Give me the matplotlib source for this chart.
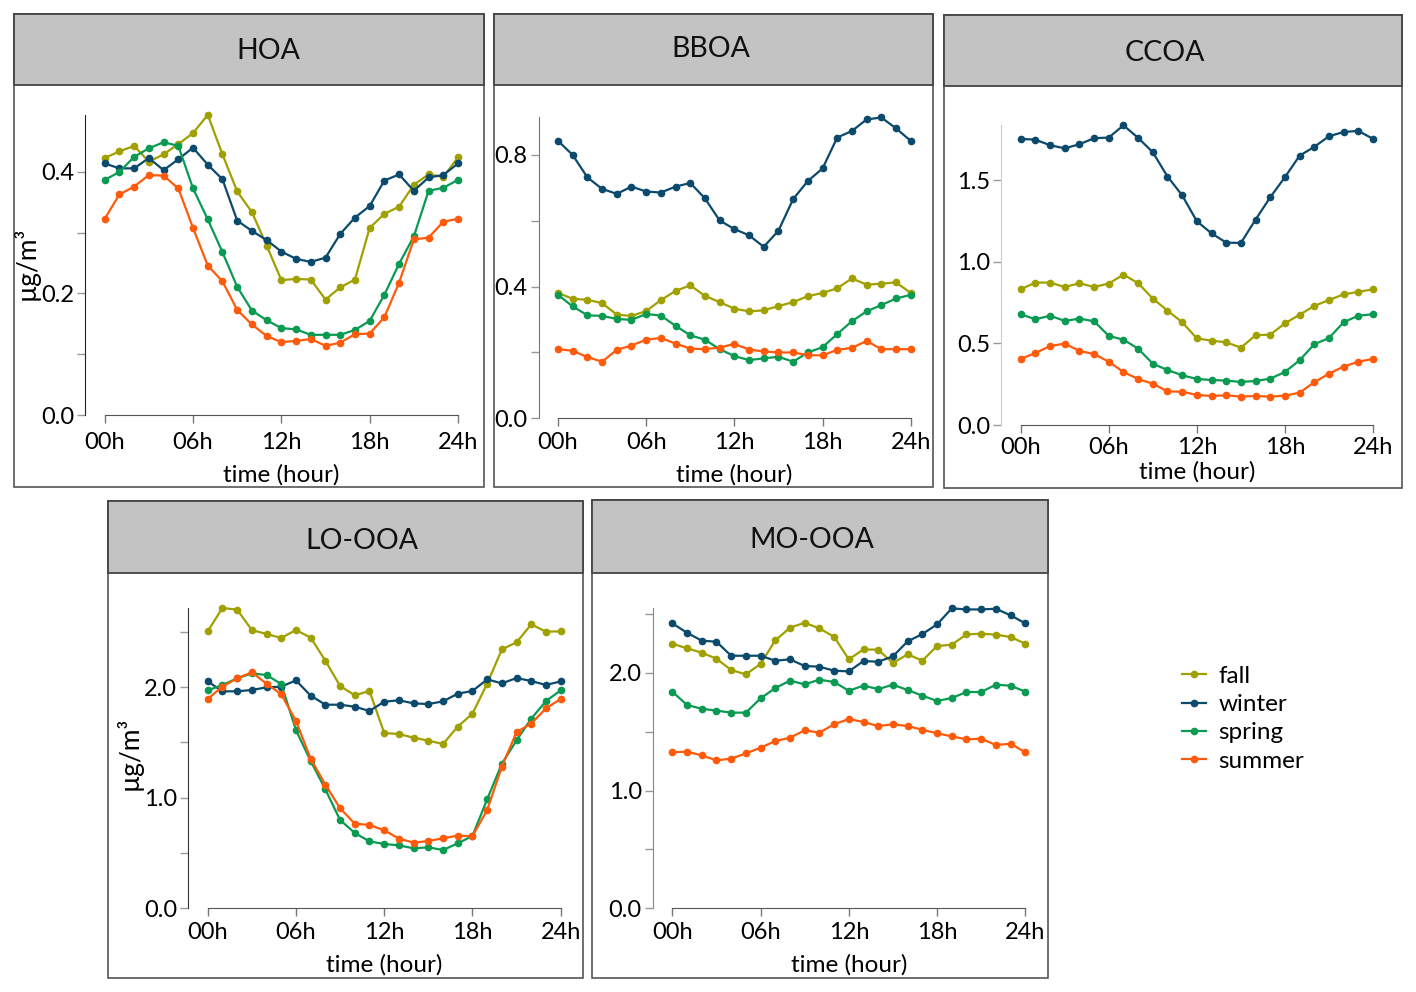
import matplotlib
matplotlib.use("Agg")
import matplotlib.pyplot as plt
from matplotlib.patches import Rectangle

plt.rcParams["font.family"] = ["Lato", "DejaVu Sans"]

W, H = 1416, 992
hours = list(range(25))
seasons = ["fall", "winter", "spring", "summer"]
colors = {"fall": "#a0a000", "winter": "#0b4a6c", "spring": "#0a9a52", "summer": "#ff5a0a"}

hoa_fall = [0.423, 0.434, 0.443, 0.417, 0.429, 0.446, 0.464, 0.494, 0.429, 0.368, 0.334, 0.279, 0.222,
            0.224, 0.223, 0.190, 0.210, 0.223, 0.308, 0.331, 0.343, 0.379, 0.396, 0.392, 0.424]
hoa_winter = [0.414, 0.406, 0.406, 0.423, 0.403, 0.421, 0.440, 0.412, 0.388, 0.320, 0.303, 0.288, 0.269,
              0.257, 0.252, 0.259, 0.298, 0.325, 0.344, 0.386, 0.396, 0.369, 0.391, 0.395, 0.414]
hoa_spring = [0.387, 0.400, 0.425, 0.439, 0.449, 0.443, 0.373, 0.322, 0.268, 0.211, 0.172, 0.156, 0.143,
              0.141, 0.132, 0.132, 0.132, 0.140, 0.155, 0.198, 0.249, 0.294, 0.369, 0.374, 0.387]
hoa_summer = [0.323, 0.363, 0.376, 0.395, 0.394, 0.373, 0.308, 0.246, 0.220, 0.173, 0.149, 0.130, 0.120,
              0.122, 0.125, 0.114, 0.119, 0.133, 0.134, 0.161, 0.218, 0.289, 0.292, 0.318, 0.323]

bboa_fall = [0.381, 0.363, 0.360, 0.350, 0.315, 0.311, 0.326, 0.359, 0.387, 0.404, 0.372, 0.353, 0.333,
             0.325, 0.328, 0.341, 0.353, 0.371, 0.381, 0.395, 0.425, 0.406, 0.409, 0.413, 0.381]
bboa_winter = [0.843, 0.800, 0.732, 0.697, 0.682, 0.704, 0.689, 0.686, 0.704, 0.715, 0.668, 0.601, 0.575,
               0.556, 0.521, 0.570, 0.666, 0.721, 0.759, 0.853, 0.873, 0.908, 0.914, 0.881, 0.843]
bboa_spring = [0.375, 0.340, 0.313, 0.311, 0.302, 0.299, 0.317, 0.312, 0.281, 0.252, 0.239, 0.210, 0.189,
               0.177, 0.182, 0.187, 0.172, 0.200, 0.216, 0.256, 0.295, 0.325, 0.344, 0.364, 0.375]
bboa_summer = [0.210, 0.205, 0.186, 0.172, 0.208, 0.221, 0.239, 0.244, 0.227, 0.212, 0.210, 0.215, 0.226,
               0.209, 0.203, 0.200, 0.200, 0.192, 0.191, 0.208, 0.214, 0.235, 0.210, 0.210, 0.210]

ccoa_fall = [0.832, 0.873, 0.873, 0.846, 0.869, 0.846, 0.867, 0.922, 0.869, 0.775, 0.701, 0.630, 0.531,
             0.517, 0.507, 0.474, 0.550, 0.554, 0.623, 0.676, 0.730, 0.766, 0.801, 0.816, 0.832]
ccoa_winter = [1.754, 1.749, 1.715, 1.696, 1.721, 1.758, 1.762, 1.837, 1.760, 1.672, 1.523, 1.408, 1.249,
               1.175, 1.118, 1.116, 1.259, 1.396, 1.519, 1.651, 1.705, 1.770, 1.796, 1.803, 1.754]
ccoa_spring = [0.679, 0.648, 0.670, 0.638, 0.652, 0.636, 0.546, 0.523, 0.468, 0.376, 0.337, 0.305, 0.282,
               0.276, 0.272, 0.264, 0.270, 0.284, 0.325, 0.397, 0.495, 0.533, 0.630, 0.670, 0.679]
ccoa_summer = [0.405, 0.441, 0.484, 0.499, 0.454, 0.435, 0.388, 0.325, 0.282, 0.253, 0.206, 0.204, 0.184,
               0.178, 0.182, 0.174, 0.178, 0.174, 0.180, 0.198, 0.262, 0.315, 0.358, 0.388, 0.405]

lo_fall = [2.503, 2.714, 2.699, 2.515, 2.479, 2.443, 2.515, 2.446, 2.238, 2.009, 1.925, 1.964, 1.584,
           1.575, 1.542, 1.515, 1.485, 1.642, 1.759, 2.030, 2.340, 2.404, 2.566, 2.500, 2.503]
lo_winter = [2.051, 1.961, 1.961, 1.973, 1.997, 2.003, 2.060, 1.922, 1.840, 1.840, 1.822, 1.783, 1.867,
             1.880, 1.852, 1.846, 1.870, 1.940, 1.964, 2.069, 2.033, 2.081, 2.054, 2.018, 2.051]
lo_spring = [1.970, 2.018, 2.078, 2.123, 2.108, 2.027, 1.611, 1.331, 1.075, 0.798, 0.681, 0.605, 0.581,
             0.569, 0.542, 0.551, 0.527, 0.587, 0.654, 0.985, 1.307, 1.518, 1.714, 1.873, 1.970]
lo_summer = [1.892, 2.003, 2.078, 2.133, 2.030, 1.934, 1.693, 1.352, 1.117, 0.904, 0.765, 0.753, 0.705,
             0.630, 0.593, 0.608, 0.633, 0.657, 0.651, 0.889, 1.280, 1.593, 1.669, 1.807, 1.892]

mo_fall = [2.246, 2.207, 2.170, 2.119, 2.023, 1.986, 2.074, 2.274, 2.382, 2.424, 2.376, 2.305, 2.113,
           2.198, 2.195, 2.082, 2.156, 2.102, 2.226, 2.238, 2.325, 2.331, 2.323, 2.303, 2.246]
mo_winter = [2.419, 2.339, 2.272, 2.263, 2.144, 2.144, 2.144, 2.102, 2.113, 2.057, 2.051, 2.017, 2.011,
             2.099, 2.093, 2.139, 2.266, 2.328, 2.410, 2.546, 2.537, 2.537, 2.543, 2.487, 2.419]
mo_spring = [1.839, 1.726, 1.694, 1.678, 1.661, 1.661, 1.782, 1.870, 1.932, 1.901, 1.941, 1.921, 1.847,
             1.890, 1.861, 1.898, 1.853, 1.805, 1.760, 1.785, 1.836, 1.836, 1.898, 1.890, 1.839]
mo_summer = [1.324, 1.330, 1.298, 1.256, 1.270, 1.315, 1.363, 1.420, 1.448, 1.511, 1.491, 1.562, 1.607,
             1.581, 1.547, 1.562, 1.547, 1.516, 1.485, 1.460, 1.434, 1.440, 1.386, 1.397, 1.324]

xtick_vals = [0, 6, 12, 18, 24]
xtick_labels = ["00h", "06h", "12h", "18h", "24h"]

# name, series, frame(x0,y0,x1,y1,header_bottom), title pos, axes px (x at 0h, x at 24h, y of 0, y of ref, ref), ytop,
# major ticks, minor ticks, ylabel, left spine colour, tick pad, xlabel pad
panels = [
    ("HOA", [hoa_fall, hoa_winter, hoa_spring, hoa_summer], (14, 14, 484, 487, 85), (268, 51),
     (104.7, 458, 415, 172, 0.4), 0.5, [0, 0.2, 0.4], [0.1, 0.3], True, "#222222", 6, 8),
    ("BBOA", [bboa_fall, bboa_winter, bboa_spring, bboa_summer], (494, 14, 933, 487, 85), (711, 49),
     (558, 910.7, 418.3, 155, 0.8), 0.95, [0, 0.4, 0.8], [0.2, 0.6], False, "#777777", 4, 8),
    ("CCOA", [ccoa_fall, ccoa_winter, ccoa_spring, ccoa_summer], (944, 15, 1402, 488, 86), (1165, 53),
     (1020.7, 1373, 425, 180.3, 1.5), 1.9, [0, 0.5, 1.0, 1.5], [], False, "#cccccc", 3, 2),
    ("LO-OOA", [lo_fall, lo_winter, lo_spring, lo_summer], (108, 501, 583, 978, 573), (362, 541),
     (207.7, 560.7, 908.3, 687, 2.0), 2.8, [0, 1.0, 2.0], [0.5, 1.5, 2.5], True, "#333333", 4, 8),
    ("MO-OOA", [mo_fall, mo_winter, mo_spring, mo_summer], (592, 500, 1048, 978, 573), (812, 540),
     (672.3, 1025.3, 908.3, 672.7, 2.0), 2.6, [0, 1.0, 2.0], [0.5, 1.5, 2.5], False, "#888888", 4, 8),
]

fig = plt.figure(figsize=(W / 100, H / 100), dpi=100)
fig.patch.set_facecolor("white")

FS = 17
handles = None
for name, series, frame, tpos, apx, ytop, majors, minors, ylab, spc, tpad, lpad in panels:
    fx0, fy0, fx1, fy1, hb = frame
    fig.add_artist(Rectangle((fx0 / W, 1 - fy1 / H), (fx1 - fx0) / W, (fy1 - fy0) / H,
                             transform=fig.transFigure, facecolor="white", edgecolor="#555555", lw=1.2, zorder=0))
    fig.add_artist(Rectangle((fx0 / W, 1 - hb / H), (fx1 - fx0) / W, (hb - fy0) / H,
                             transform=fig.transFigure, facecolor="#c3c3c3", edgecolor="#444444", lw=1.3, zorder=0))
    fig.text(tpos[0] / W, 1 - tpos[1] / H, name, ha="center", va="center", fontsize=20.5, color="#111111")

    x0, x24, y0, yref, vref = apx
    scale = (y0 - yref) / vref
    ytop_px = y0 - ytop * scale
    ax = fig.add_axes([x0 / W, 1 - y0 / H, (x24 - x0) / W, (y0 - ytop_px) / H])
    ax.set_facecolor("none")
    lines = []
    for s, vals in zip(seasons, series):
        ln, = ax.plot(hours, vals, color=colors[s], lw=1.6, marker="o", ms=4.5, clip_on=False, label=s)
        lines.append(ln)
    if handles is None:
        handles = lines
    ax.set_xlim(0, 24)
    ax.set_ylim(0, ytop)
    ax.set_xticks(xtick_vals)
    ax.set_xticklabels(xtick_labels)
    ax.set_yticks(majors)
    ax.set_yticklabels([f"{v:.1f}" for v in majors])
    ax.set_yticks(minors, minor=True)
    for sp in ["top", "right"]:
        ax.spines[sp].set_visible(False)
    ax.spines["left"].set_position(("outward", 14))
    ax.spines["left"].set_bounds(0, max(max(v) for v in series))
    ax.spines["left"].set_color(spc)
    ax.spines["bottom"].set_color("#555555")
    ax.spines["bottom"].set_bounds(0, 24)
    ax.tick_params(axis="y", which="both", length=6, width=1, color="#999999", labelsize=FS, pad=2)
    ax.tick_params(axis="x", length=6, width=1, color="#777777", labelsize=FS, pad=tpad)
    ax.set_xlabel("time (hour)", fontsize=FS + 0.5, labelpad=lpad)
    if ylab:
        ax.set_ylabel("µg/m³", fontsize=FS + 2, labelpad=1)

fig.legend(handles, seasons, loc="upper left", bbox_to_anchor=(1172 / W, 1 - 656 / H),
           frameon=False, fontsize=FS + 0.5, handlelength=1.0, handletextpad=0.5, labelspacing=0.3,
           borderaxespad=0)

fig.savefig("out.png", dpi=100, facecolor="white")
